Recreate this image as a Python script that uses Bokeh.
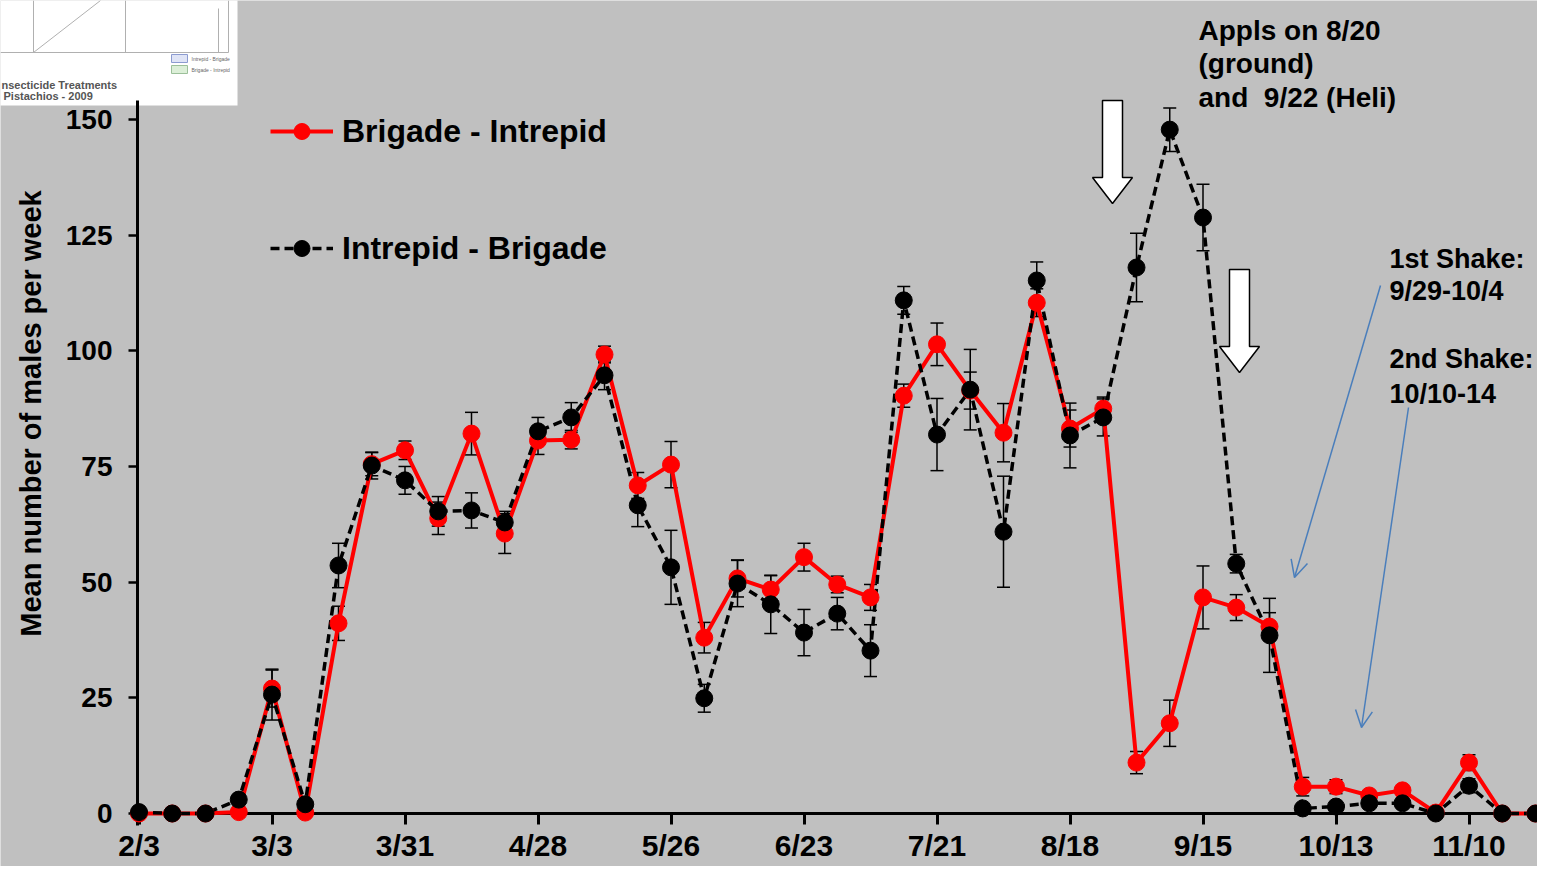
import math
from bokeh.plotting import figure
from bokeh.models import (ColumnDataSource, FixedTicker, Whisker, TeeHead, Legend,
                          LegendItem, Arrow, OpenHead)
from bokeh.core.properties import value
from bokeh.embed import file_html
from bokeh.resources import INLINE

# ---------------- data ----------------
dates = ["2/3", "2/10", "2/17", "2/24", "3/3", "3/10", "3/17", "3/24", "3/31", "4/7",
         "4/14", "4/21", "4/28", "5/5", "5/12", "5/19", "5/26", "6/2", "6/9", "6/16",
         "6/23", "6/30", "7/7", "7/14", "7/21", "7/28", "8/4", "8/11", "8/18", "8/25",
         "9/1", "9/8", "9/15", "9/22", "9/29", "10/6", "10/13", "10/20", "10/27", "11/3",
         "11/10", "11/17", "11/24"]

brigade_intrepid = [0, 0, 0, 0.3, 27.0, 0.2, 41.1, 75.5, 78.5, 63.8,
                    82.1, 60.5, 80.6, 80.8, 99.2, 70.9, 75.4, 38.0, 50.8, 48.4,
                    55.4, 49.5, 46.7, 90.3, 101.4, 91.4, 82.3, 110.4, 83.2, 87.5,
                    11.0, 19.5, 46.7, 44.5, 40.4, 5.8, 5.8, 3.9, 5.0, 0.2,
                    11.0, 0, 0]
brigade_intrepid_se = [0, 0, 0, 0.3, 4.0, 0, 3.7, 2.5, 2.0, 3.5,
                       4.6, 4.3, 3.0, 2.0, 1.8, 2.8, 5.0, 3.3, 4.0, 3.0,
                       3.0, 1.8, 2.8, 2.5, 4.6, 4.0, 6.3, 3.0, 4.0, 2.5,
                       2.4, 5.0, 6.8, 2.8, 3.0, 2.0, 1.5, 1.0, 1.0, 0.3,
                       1.7, 0, 0]

intrepid_brigade = [0.3, 0, 0, 3.0, 25.7, 2.0, 53.6, 75.2, 72.0, 65.3,
                    65.5, 62.9, 82.6, 85.6, 94.7, 66.6, 53.2, 24.9, 49.7, 45.2,
                    39.1, 43.2, 35.2, 110.9, 81.9, 91.6, 60.9, 115.2, 81.7, 85.6,
                    118.0, 147.8, 128.8, 54.0, 38.5, 1.1, 1.5, 2.2, 2.2, 0,
                    6.0, 0, 0]
intrepid_brigade_se = [0, 0, 0, 0.5, 5.5, 1.0, 4.8, 2.9, 3.0, 3.2,
                       3.8, 2.4, 3.0, 3.2, 3.1, 4.6, 8.0, 3.0, 5.0, 6.3,
                       5.0, 3.5, 5.6, 3.0, 7.8, 8.7, 12.0, 4.0, 7.0, 4.0,
                       7.4, 4.7, 7.2, 2.0, 8.0, 0.5, 0.5, 0.5, 0.5, 0,
                       1.5, 0, 0]

tick_dates = ["2/3", "3/3", "3/31", "4/28", "5/26", "6/23", "7/21", "8/18", "9/15", "10/13", "11/10"]
y_ticks = [0, 25, 50, 75, 100, 125, 150]

# ---------------- layout calibration (pixels of the reference picture) ----------------
W, H = 1537, 866
X0_PX, X_PER_WEEK = 138.5, 33.25
Y0_PX, Y_PER_UNIT = 813.0, 4.627


def xd(px):
    return (px - X0_PX) / X_PER_WEEK


def yd(py):
    return (Y0_PX - py) / Y_PER_UNIT


BG = "#c0c0c0"
FONT = "Liberation Sans"
RED = "#ff0000"
BLUE = "#4a7ebb"

x = list(range(len(dates)))
tick_x = [dates.index(d) for d in tick_dates]

p = figure(width=W, height=H,
           x_range=(xd(0), xd(W)), y_range=(yd(H), yd(0)),
           output_backend="svg", toolbar_location=None,
           min_border=0, min_border_left=0, min_border_right=0, min_border_top=0, min_border_bottom=0,
           background_fill_color=BG, border_fill_color=BG, outline_line_color=None)
p.grid.visible = False

# ---------------- axes ----------------
xa = p.xaxis[0]
xa.fixed_location = 0
xa.bounds = (xd(137), xd(W))
xa.ticker = FixedTicker(ticks=tick_x)
xa.major_label_overrides = {t: d for t, d in zip(tick_x, tick_dates)}
xa.minor_tick_line_color = None
xa.axis_line_width = 3
xa.major_tick_line_width = 3
xa.major_tick_in = 0
xa.major_tick_out = 11
xa.major_label_standoff = 4
xa.major_label_text_font = FONT
xa.major_label_text_font_style = "bold"
xa.major_label_text_font_size = "30px"
xa.major_label_text_color = "black"

ya = p.yaxis[0]
ya.fixed_location = xd(137)
ya.bounds = (yd(825), yd(100))
ya.ticker = FixedTicker(ticks=y_ticks)
ya.minor_tick_line_color = None
ya.axis_line_width = 3
ya.major_tick_line_width = 2.5
ya.major_tick_in = 0
ya.major_tick_out = 9
ya.major_label_standoff = 16
ya.major_label_text_font = FONT
ya.major_label_text_font_style = "bold"
ya.major_label_text_font_size = "28px"
ya.major_label_text_color = "black"

p.text(x=[xd(30)], y=[yd(413)], text=["Mean number of males per week"], angle=math.pi / 2,
       text_align="center", text_baseline="middle", text_font=value(FONT),
       text_font_style="bold", text_font_size="29px", text_color="black")

# ---------------- inset thumbnail (top-left) ----------------
p.quad(left=[xd(-2)], right=[xd(237)], top=[yd(-2)], bottom=[yd(105)],
       fill_color="white", line_color=None)
seg_x0 = [0, 228, 33, 125, 218, 33]
seg_y0 = [52, 0, 0, 0, 8, 52]
seg_x1 = [228, 228, 33, 125, 218, 100]
seg_y1 = [52, 52, 52, 52, 52, 0]
p.segment(x0=[xd(v) for v in seg_x0], y0=[yd(v) for v in seg_y0],
          x1=[xd(v) for v in seg_x1], y1=[yd(v) for v in seg_y1],
          line_color="#b0b0b0", line_width=1)
p.quad(left=[xd(171), xd(171)], right=[xd(187), xd(187)], top=[yd(54), yd(65)],
       bottom=[yd(62), yd(73)], fill_color=["#dfe4f6", "#dcefd8"],
       line_color=["#8c9bd0", "#9cc09a"], line_width=1)
p.text(x=[xd(191), xd(191)], y=[yd(58), yd(69)], text=["Intrepid - Brigade", "Brigade - Intrepid"],
       text_baseline="middle", text_font=value(FONT), text_font_size="5px", text_color="#666666")
p.text(x=[xd(1), xd(3)], y=[yd(84), yd(95)], text=["nsecticide Treatments", "Pistachios - 2009"],
       text_baseline="alphabetic", text_font=value(FONT), text_font_style="bold",
       text_font_size="11px", text_color="#555555")

# ---------------- white block arrows (applications) ----------------
def block_arrow(cx, top, head_base, tip, shaft_hw=10, head_hw=20):
    xs = [cx - shaft_hw, cx + shaft_hw, cx + shaft_hw, cx + head_hw, cx, cx - head_hw, cx - shaft_hw]
    ys = [top, top, head_base, head_base, tip, head_base, head_base]
    return [xd(v) for v in xs], [yd(v) for v in ys]


ax1, ay1 = block_arrow(1112, 100, 177, 203)
ax2, ay2 = block_arrow(1239, 269, 346, 372)
p.patches(xs=[ax1, ax2], ys=[ay1, ay2], fill_color="white", line_color="black", line_width=1.5)

# ---------------- error bars ----------------
for vals, ses in ((brigade_intrepid, brigade_intrepid_se), (intrepid_brigade, intrepid_brigade_se)):
    src = ColumnDataSource(dict(x=x, upper=[v + s for v, s in zip(vals, ses)],
                                lower=[v - s for v, s in zip(vals, ses)]))
    p.add_layout(Whisker(source=src, base="x", upper="upper", lower="lower",
                         line_color="black", line_width=1.5,
                         upper_head=TeeHead(size=13, line_color="black", line_width=1.5),
                         lower_head=TeeHead(size=13, line_color="black", line_width=1.5)))

# ---------------- series ----------------
src_bi = ColumnDataSource(dict(x=x, y=brigade_intrepid))
src_ib = ColumnDataSource(dict(x=x, y=intrepid_brigade))

r_bi_line = p.line("x", "y", source=src_bi, line_color=RED, line_width=4, level="annotation")
r_ib_line = p.line("x", "y", source=src_ib, line_color="black", line_width=3.5,
                   line_dash="9 5", level="annotation")
r_bi_pts = p.scatter("x", "y", source=src_bi, size=17, fill_color=RED, line_color=RED,
                     level="annotation")
r_ib_pts = p.scatter("x", "y", source=src_ib, size=17, fill_color="black", line_color="black",
                     level="annotation")

legend = Legend(items=[LegendItem(label="Brigade - Intrepid", renderers=[r_bi_line, r_bi_pts]),
                       LegendItem(label="Intrepid - Brigade", renderers=[r_ib_line, r_ib_pts])],
                location=(270, 598), orientation="vertical", padding=0, margin=0, spacing=77,
                glyph_width=63, glyph_height=40, label_height=40, label_standoff=9,
                label_text_font=FONT, label_text_font_style="bold", label_text_font_size="32px",
                label_text_color="black", border_line_color=None, background_fill_alpha=0)
p.add_layout(legend)

# ---------------- annotations ----------------
notes_top = ["Appls on 8/20", "(ground)", "and\u00a0 9/22 (Heli)"]
notes_top_py = [30, 63, 97]
p.text(x=[xd(1198)] * len(notes_top), y=[yd(v) for v in notes_top_py], text=notes_top,
       text_align="left", text_baseline="alphabetic", text_font=value(FONT),
       text_font_style="bold", text_font_size="28px", text_color="black")

notes_right = ["1st Shake:", "9/29-10/4", "2nd Shake:", "10/10-14"]
notes_right_py = [258, 290, 358, 393]
p.text(x=[xd(1389)] * len(notes_right), y=[yd(v) for v in notes_right_py], text=notes_right,
       text_align="left", text_baseline="alphabetic", text_font=value(FONT),
       text_font_style="bold", text_font_size="27px", text_color="black")

p.add_layout(Arrow(end=OpenHead(size=17, line_color=BLUE, line_width=1.5),
                   x_start=xd(1380), y_start=yd(285), x_end=xd(1294), y_end=yd(577),
                   line_color=BLUE, line_width=1.5))
p.add_layout(Arrow(end=OpenHead(size=17, line_color=BLUE, line_width=1.5),
                   x_start=xd(1408), y_start=yd(407), x_end=xd(1361), y_end=yd(727),
                   line_color=BLUE, line_width=1.5))

open("out.html", "w").write(file_html(p, INLINE))
